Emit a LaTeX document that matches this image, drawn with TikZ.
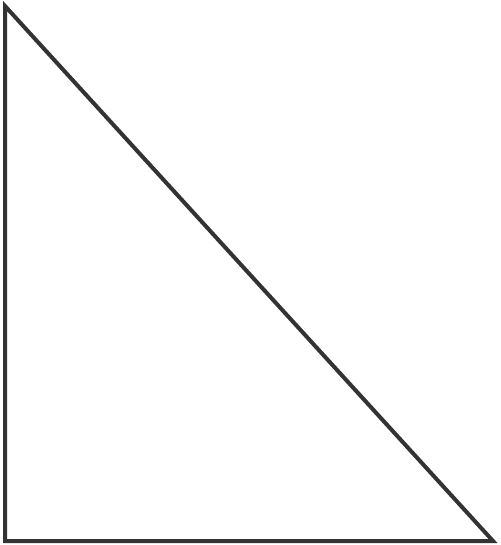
\documentclass[tikz,border=0pt]{standalone}
\definecolor{edge}{HTML}{333333}
\begin{document}
\begin{tikzpicture}[x=1pt,y=-1pt,tri/.style={draw=edge,line width=4pt,line join=miter}]
\useasboundingbox (0,0) rectangle (500,545);
\coordinate (A) at (5,6);
\coordinate (B) at (5,541);
\coordinate (C) at (493,541);
\draw[tri] (A) -- (B) -- (C) -- cycle;
\end{tikzpicture}
\end{document}
